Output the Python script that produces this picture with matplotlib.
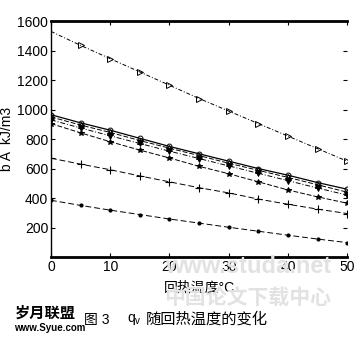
import matplotlib.pyplot as plt

plt.rcParams['font.family'] = ['Liberation Sans', 'Noto Sans CJK SC', 'DejaVu Sans']

# 回热温度 (°C)
温度 = [0, 5, 10, 15, 20, 25, 30, 35, 40, 45, 50]

# 各条曲线 (kJ/m3)
三角 = [1530, 1435, 1345, 1255, 1165, 1075, 990, 905, 820, 735, 650]
圆圈 = [965, 910, 860, 805, 750, 700, 650, 600, 555, 505, 460]
曲线B = [950, 895, 845, 790, 738, 688, 636, 588, 540, 490, 440]
曲线C = [930, 875, 822, 770, 718, 668, 618, 568, 518, 468, 420]
星号 = [905, 842, 782, 725, 672, 615, 565, 510, 455, 408, 365]
十字 = [670, 630, 592, 550, 510, 470, 435, 393, 358, 325, 295]
圆点 = [385, 350, 318, 288, 258, 230, 202, 175, 148, 122, 98]

xticks = [0, 10, 20, 30, 40, 50]
yticks = [200, 400, 600, 800, 1000, 1200, 1400, 1600]

fig = plt.figure(figsize=(3.59, 3.40), dpi=100)
ax = fig.add_axes([0.142, 0.244, 0.825, 0.694])

k = dict(color='black', lw=0.7, ms=4, mew=0.7)
ax.plot(温度, 三角, ls=(0, (4, 2, 1, 2)), marker='>', mfc='none', markevery=slice(1, None), **k)
ax.plot(温度, 圆圈, ls='-', marker='o', mfc='none', ms=3.5, mew=0.7, color='black', lw=0.9)
ax.plot(温度, 曲线B, ls=(0, (5, 2)), marker='^', mfc='none', **k)
ax.plot(温度, 曲线C, ls=(0, (5, 2, 1, 2)), marker='v', mfc='black', **k)
ax.plot(温度, 星号, ls=(0, (5, 2)), marker='*', mfc='black', **k)
ax.plot(温度, 十字, ls=(0, (6, 3)), marker='+', ms=6, color='black', lw=0.7, mew=0.8)
ax.plot(温度, 圆点, ls=(0, (6, 3)), marker='.', ms=4, color='black', lw=0.7)

ax.set_xlim(0, 50)
ax.set_ylim(0, 1600)
ax.set_xticks(xticks)
ax.set_yticks(yticks)
ax.tick_params(direction='in', top=True, right=True, labelsize=10, length=3, pad=2)
ax.spines['top'].set_linewidth(2)
ax.spines['bottom'].set_linewidth(2)
ax.spines['left'].set_linewidth(1)
ax.spines['right'].set_visible(False)

ax.set_ylabel('b A  kJ/m3', fontsize=10, labelpad=2)
ax.set_xlabel('回热温度°C', fontsize=10, labelpad=5)

# 水印
fig.text(0.69, 0.215, 'www.studa.net', fontsize=17, color='#e2e2e2',
         ha='center', va='center', fontweight='bold', zorder=0)
fig.text(0.69, 0.12, '中国论文下载中心', fontsize=15, color='#e2e2e2',
         ha='center', va='center', fontweight='bold', zorder=0)
fig.text(0.04, 0.078, '岁月联盟', fontsize=11, fontweight='bold', ha='left', va='center')
fig.text(0.04, 0.035, 'www.Syue.com', fontsize=7, fontweight='bold', ha='left', va='center')

# 图题
fig.text(0.235, 0.06, '图 3', fontsize=10, ha='left', va='center')
fig.text(0.355, 0.06, r'q$_\mathregular{v}$', fontsize=10, ha='left', va='center')
fig.text(0.405, 0.06, '随回热温度的变化', fontsize=11, ha='left', va='center')

fig.savefig('out.png', dpi=100)
